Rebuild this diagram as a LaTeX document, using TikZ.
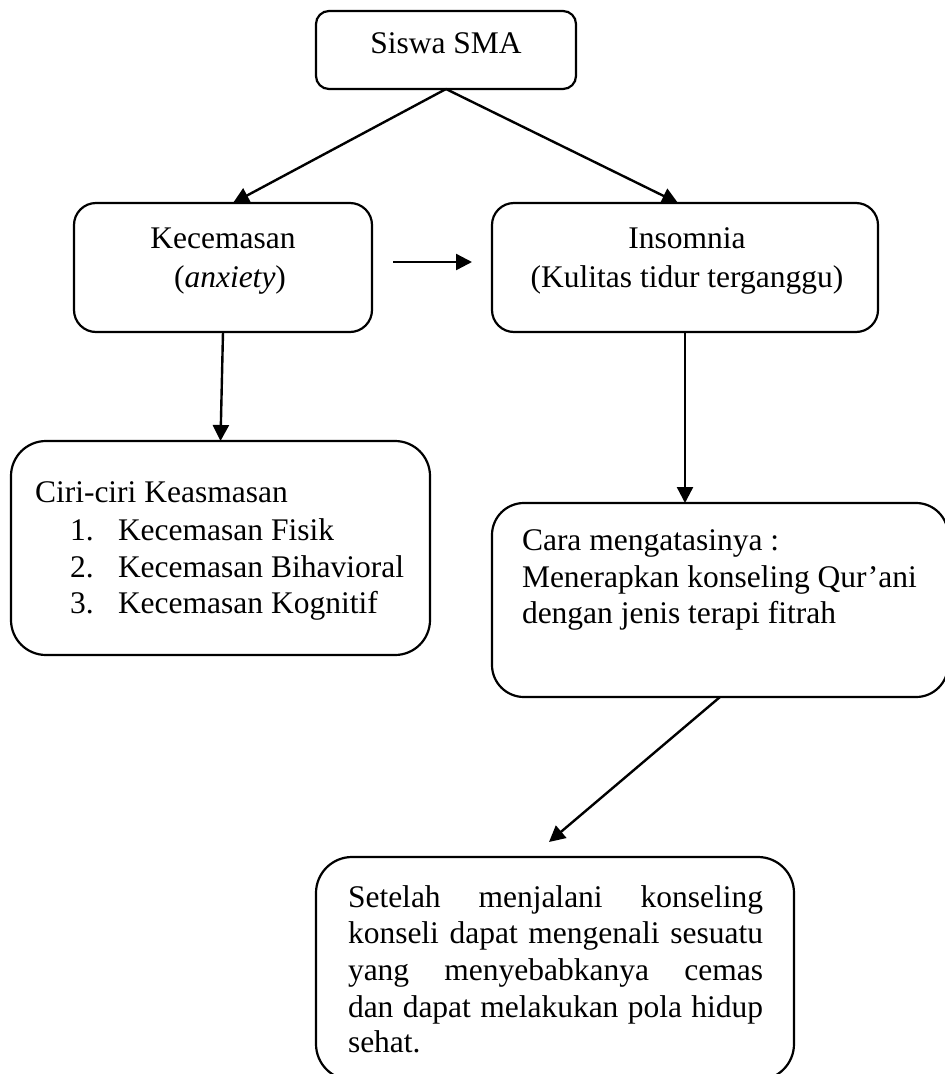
\documentclass[tikz,border=0pt]{standalone}
\usepackage{fontspec}
\setmainfont{Liberation Serif}
\usetikzlibrary{arrows.meta}
\tikzset{
  box/.style={draw, line width=2.2pt, inner sep=0pt, outer sep=0pt},
  txt/.style={inner sep=0pt, outer sep=0pt, font=\fontsize{31.5}{36.5}\selectfont},
  arr/.style={line width=2.4pt, -{Triangle[length=16pt,width=16pt]}},
}
\begin{document}
\begin{tikzpicture}[x=1pt,y=-1pt]
\useasboundingbox (0,0) rectangle (945,1074);
\clip (0,0) rectangle (945,1074);
% boxes
\node[box, rounded corners=13pt, minimum width=260pt, minimum height=78pt] (siswa) at (446,50) {};
\node[box, rounded corners=22pt, minimum width=298pt, minimum height=129pt] (kec) at (223,267.5) {};
\node[box, rounded corners=22pt, minimum width=386pt, minimum height=129pt] (ins) at (685,267.5) {};
\node[box, rounded corners=35pt, minimum width=419pt, minimum height=214pt] (ciri) at (220.5,548) {};
\node[box, rounded corners=32pt, minimum width=456pt, minimum height=194pt] (cara) at (720,600) {};
\node[box, rounded corners=36pt, minimum width=478pt, minimum height=223pt] (akhir) at (555,968.5) {};
% texts
\node[txt, anchor=base] (tsiswa) at (446,53) {Siswa SMA};
\node[txt, anchor=base] (tkec1) at (223,248) {Kecemasan};
\node[txt, anchor=base] (tkec2) at (230,287) {(\textit{anxiety})};
\node[txt, anchor=base] (tins1) at (687,248) {Insomnia};
\node[txt, anchor=base] (tins2) at (687,287) {(Kulitas tidur terganggu)};
\node[txt, anchor=base west] (tciri) at (35,502) {Ciri-ciri Keasmasan};
\node[txt, anchor=base west] (n1) at (70,540) {1.};
\node[txt, anchor=base west] (n2) at (70,577) {2.};
\node[txt, anchor=base west] (n3) at (70,613) {3.};
\node[txt, anchor=base west] (i1) at (118,540) {Kecemasan Fisik};
\node[txt, anchor=base west] (i2) at (118,577) {Kecemasan Bihavioral};
\node[txt, anchor=base west] (i3) at (118,613) {Kecemasan Kognitif};
\node[txt, anchor=base west] (c1) at (522,550) {Cara mengatasinya :};
\node[txt, anchor=base west] (c2) at (522,587) {Menerapkan konseling Qur’ani};
\node[txt, anchor=base west] (c3) at (522,623) {dengan jenis terapi fitrah};
\node[txt, anchor=base west] (s1) at (348,907) {\makebox[415pt][s]{Setelah menjalani konseling}};
\node[txt, anchor=base west] (s2) at (348,943) {\makebox[415pt][s]{konseli dapat mengenali sesuatu}};
\node[txt, anchor=base west] (s3) at (348,980) {\makebox[415pt][s]{yang menyebabkanya cemas}};
\node[txt, anchor=base west] (s4) at (348,1017) {\makebox[415pt][s]{dan dapat melakukan pola hidup}};
\node[txt, anchor=base west] (s5) at (348,1052) {sehat.};
% connectors
\coordinate (h1) at (393,262);
\coordinate (h2) at (472,262);
\coordinate (tipakhir) at (549,842);
\draw[arr] (siswa.south) -- ([xshift=10pt]kec.north);
\draw[arr] (siswa.south) -- ([xshift=-7pt]ins.north);
\draw[arr] (h1) -- (h2);
\draw[arr] (kec.south) -- (ciri.north);
\draw[arr] (ins.south) -- (ins.south |- cara.north);
\draw[arr] (cara.south) -- (tipakhir);
\end{tikzpicture}
\end{document}
